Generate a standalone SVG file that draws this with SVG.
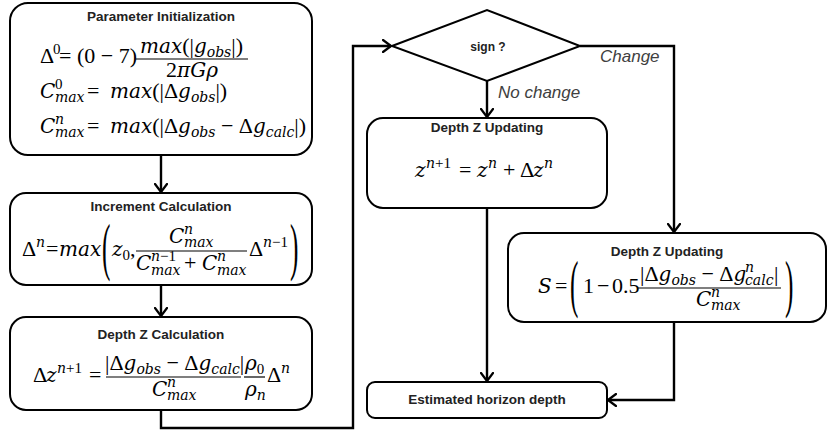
<svg xmlns="http://www.w3.org/2000/svg" width="828" height="432" viewBox="0 0 828 432">
<style>
.box{fill:#fff;stroke:#000;stroke-width:2}
.t{font-family:"Liberation Sans",Arial,sans-serif;font-weight:bold;font-size:13.5px;text-anchor:middle;fill:#222}
.lbl{font-family:"Liberation Sans",Arial,sans-serif;font-style:italic;font-size:17px;fill:#404040}
.m{font-family:"DejaVu Serif",serif;font-style:italic;font-size:20px;fill:#000}
.u{font-family:"Liberation Serif",serif;font-style:normal;font-size:22px}
.s{font-size:14px}
.us{font-family:"Liberation Serif",serif;font-style:normal;font-size:15px}
.bp{font-family:"Liberation Serif",serif;font-size:56px;fill:#000}
.bar{stroke:#000;stroke-width:1.2}
.conn{fill:none;stroke:#000;stroke-width:2.4;marker-end:url(#ah)}
</style>
<defs>
<marker id="ah" viewBox="0 0 10 14" refX="9" refY="7" markerWidth="10" markerHeight="14" markerUnits="userSpaceOnUse" orient="auto">
<path d="M1,1 L9,7 L1,13" fill="none" stroke="#000" stroke-width="2.2" stroke-linecap="round" stroke-linejoin="round"/>
</marker>
</defs>
<rect width="828" height="432" fill="#fff"/>

<g id="connectors">
<path class="conn" d="M161,155 V192"/>
<path class="conn" d="M161,285 V316"/>
<path class="conn" d="M161,410 V428 H353 V46 H391"/>
<path class="conn" d="M487,81 V117"/>
<path class="conn" d="M580,46 H674 V232"/>
<path class="conn" d="M487,208 V381"/>
<path class="conn" d="M674,322 V400 H608"/>
<text class="lbl" x="498" y="98">No change</text>
<text class="lbl" x="600" y="62">Change</text>
</g>

<g id="param-init">
<rect class="box" x="10" y="3" width="302" height="152" rx="18"/>
<text class="t" x="161" y="21">Parameter Initialization</text>
<text class="m"><tspan class="u" x="40" y="63">Δ</tspan><tspan class="us" x="53" y="54">0</tspan><tspan class="u" x="59" y="63">= (0 − 7)</tspan></text>
<text class="m" x="140" y="53">max<tspan class="u">(|</tspan>g<tspan class="s" y="57">obs</tspan><tspan class="u" y="53">|)</tspan></text>
<line class="bar" x1="136" y1="59" x2="248" y2="59"/>
<text class="m" x="192" y="77" text-anchor="middle"><tspan class="u">2</tspan>πGρ</text>
<text class="m"><tspan x="40" y="98">C</tspan><tspan class="us" x="55" y="89">0</tspan><tspan class="s" x="55" y="102">max</tspan><tspan class="u" x="87" y="98">=</tspan><tspan x="110" y="98">max</tspan><tspan class="u">(|Δ</tspan>g<tspan class="s" y="102">obs</tspan><tspan class="u" y="98">|)</tspan></text>
<text class="m"><tspan x="40" y="133">C</tspan><tspan class="s" x="55" y="124">n</tspan><tspan class="s" x="55" y="137">max</tspan><tspan class="u" x="87" y="133">=</tspan><tspan x="110" y="133">max</tspan><tspan class="u">(|Δ</tspan>g<tspan class="s" y="137">obs</tspan><tspan class="u" y="133"> − Δ</tspan>g<tspan class="s" y="137">calc</tspan><tspan class="u" y="133">|)</tspan></text>
</g>

<g id="increment">
<rect class="box" x="10" y="193" width="302" height="92" rx="16"/>
<text class="t" x="161" y="211">Increment Calculation</text>
<text class="m"><tspan class="u" x="22" y="256">Δ</tspan><tspan class="s" x="36" y="247">n</tspan><tspan class="u" x="46" y="256">=</tspan><tspan x="59" y="256">max</tspan></text>
<text class="bp" transform="translate(102,268) scale(0.45,1.15)">(</text>
<text class="m"><tspan x="112" y="256">z</tspan><tspan class="us" y="260">0</tspan><tspan class="u" y="256">,</tspan></text>
<text class="m"><tspan x="169" y="243">C</tspan><tspan class="s" x="184" y="234">n</tspan><tspan class="s" x="184" y="247">max</tspan></text>
<line class="bar" x1="136" y1="251" x2="247" y2="251"/>
<text class="m"><tspan x="136" y="270">C</tspan><tspan class="s" x="151" y="261">n</tspan><tspan class="us">−1</tspan><tspan class="s" x="151" y="275">max</tspan><tspan class="u" x="184" y="270">+</tspan><tspan x="202" y="270">C</tspan><tspan class="s" x="217" y="261">n</tspan><tspan class="s" x="217" y="275">max</tspan></text>
<text class="m"><tspan class="u" x="249" y="256">Δ</tspan><tspan class="s" x="263" y="247">n</tspan><tspan class="us">−1</tspan></text>
<text class="bp" transform="translate(290,268) scale(0.45,1.15)">)</text>
</g>

<g id="depth-calc">
<rect class="box" x="10" y="317" width="302" height="93" rx="16"/>
<text class="t" x="161" y="339">Depth Z Calculation</text>
<text class="m"><tspan class="u" x="33" y="382">Δ</tspan><tspan x="46" y="382">z</tspan><tspan class="s" x="57" y="373">n</tspan><tspan class="us">+1</tspan><tspan class="u" x="89" y="382">=</tspan></text>
<text class="m" x="105" y="370"><tspan class="u">|Δ</tspan>g<tspan class="s" y="374">obs</tspan><tspan class="u" y="370"> − Δ</tspan>g<tspan class="s" y="374">calc</tspan><tspan class="u" y="370">|</tspan></text>
<line class="bar" x1="106" y1="377" x2="241" y2="377"/>
<text class="m"><tspan x="152" y="396">C</tspan><tspan class="s" x="167" y="387">n</tspan><tspan class="s" x="167" y="400">max</tspan></text>
<text class="m"><tspan x="245" y="370">ρ</tspan><tspan class="us" y="374">0</tspan></text>
<line class="bar" x1="244" y1="377" x2="265" y2="377"/>
<text class="m"><tspan x="245" y="396">ρ</tspan><tspan class="s" y="400">n</tspan></text>
<text class="m"><tspan class="u" x="267" y="382">Δ</tspan><tspan class="s" x="281" y="373">n</tspan></text>
</g>

<g id="sign">
<polygon points="392,46 487,10 580,46 487,81" fill="#fff" stroke="#000" stroke-width="2"/>
<text class="t" x="488" y="51" style="font-size:12px">sign ?</text>
</g>

<g id="depth-update-1">
<rect class="box" x="367" y="118" width="240" height="90" rx="16"/>
<text class="t" x="487" y="132">Depth Z Updating</text>
<text class="m"><tspan x="415" y="177">z</tspan><tspan class="s" x="426" y="168">n</tspan><tspan class="us">+1</tspan><tspan class="u" x="459" y="177">=</tspan><tspan x="477" y="177">z</tspan><tspan class="s" x="488" y="168">n</tspan><tspan class="u" x="503" y="177">+</tspan><tspan class="u" x="520" y="177">Δ</tspan><tspan x="533" y="177">z</tspan><tspan class="s" x="544" y="168">n</tspan></text>
</g>

<g id="depth-update-2">
<rect class="box" x="508" y="233" width="318" height="89" rx="16"/>
<text class="t" x="667" y="256">Depth Z Updating</text>
<text class="m"><tspan x="538" y="293">S</tspan><tspan class="u" x="555" y="293">=</tspan></text>
<text class="bp" transform="translate(570,305) scale(0.45,1.15)">(</text>
<text class="m"><tspan class="u" x="583" y="293">1</tspan><tspan class="u" x="597" y="293">−</tspan><tspan class="u" x="612" y="293">0.5</tspan></text>
<text class="m" x="640" y="281"><tspan class="u">|Δ</tspan>g<tspan class="s" y="285">obs</tspan><tspan class="u" y="281"> − Δ</tspan>g</text>
<text class="m"><tspan class="s" x="745" y="272">n</tspan><tspan class="s" x="745" y="285">calc</tspan><tspan class="u" x="774" y="281">|</tspan></text>
<line class="bar" x1="638" y1="288" x2="781" y2="288"/>
<text class="m"><tspan x="696" y="306">C</tspan><tspan class="s" x="711" y="297">n</tspan><tspan class="s" x="711" y="310">max</tspan></text>
<text class="bp" transform="translate(785,305) scale(0.45,1.15)">)</text>
</g>

<g id="estimated">
<rect class="box" x="367" y="382" width="240" height="36" rx="8"/>
<text class="t" x="487" y="404">Estimated horizon depth</text>
</g>
</svg>
